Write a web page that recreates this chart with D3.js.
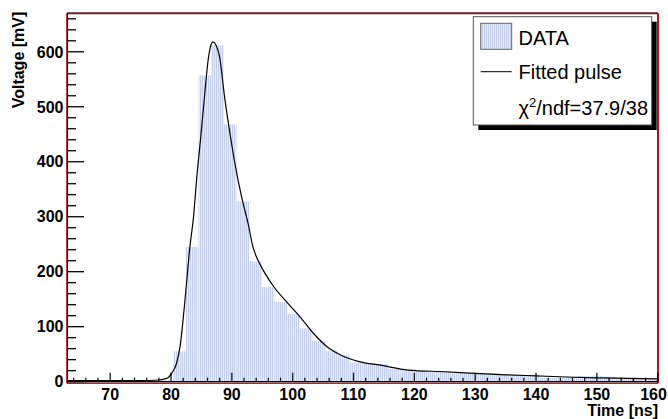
<!DOCTYPE html>
<html><head><meta charset="utf-8">
<script src="https://cdn.jsdelivr.net/npm/d3@7"></script>
<style>
html,body{margin:0;padding:0;background:#fff;}
svg{display:block;}
text{font-family:"Liberation Sans",Arial,Helvetica,sans-serif;}
</style></head>
<body>
<svg id="chart" width="668" height="419"></svg>
<script>
// ---- data ----
const binWidth = 2.075;
const binStarts = [61.70,63.78,65.85,67.93,70.00,72.08,74.15,76.23,78.30,
  80.38,82.45,84.53,86.60,88.68,90.75,92.83,94.90,96.98,99.05,101.13,103.20,105.28,107.35,
  109.43,111.50,113.58,115.65,117.73,119.80,121.88,123.95,126.03,128.10,130.18,132.25,
  134.33,136.40,138.48,140.55,142.63,144.70,146.78,148.85,150.93,153.00,155.08,157.15,159.23];
const binValues = [1,1,1,1,1,1,1,1,2,
  55,245,557,612,468,328,219,172,145,123,97,74,56,48,
  35,33,32,23,21,18,17,19,15,15,14,15,
  12,12,11,7,7,7,10,10,9,6,6,5,5];
const fitT = [62.9,70,75,78,79,79.5,80.1,80.9,81.5,82.3,83.1,83.7,84.2,85.0,85.6,86.1,86.5,86.9,87.4,88.0,88.8,89.6,90.5,91.6,92.7,93.4,94.0,94.6,95.5,96.8,99.0,101.2,103.4,105.6,107.8,111.1,114.4,119,125,130,135,140,145,150,155,160.05];
const fitV = [2,2,2,3,5,7,15,33,65,149,245,300,367,458,530,585,610,618,612,590,518,458,397,336,286,248,228,214,196,174,145,118,88,64,49,36,30,21,18,15,12.5,10.5,8.5,7,6,5];
const xTicks = [70,80,90,100,110,120,130,140,150,160];
const yTicks = [0,100,200,300,400,500,600];
const xTitle = "Time [ns]";
const yTitle = "Voltage [mV]";
const legendLabels = ["DATA","Fitted pulse"];
const chiText = ["χ","2","/ndf=37.9/38"];

// ---- layout ----
const W = 668;
const L = 67, R = 658, T = 13.3, B = 383.3;
const svg = d3.select("#chart");
const x = d3.scaleLinear().domain([62.9,160.05]).range([L,R]);
const y = d3.scaleLinear().domain([-3,670]).range([B,T]);

const defs = svg.append("defs");
const pat = defs.append("pattern").attr("id","stripes").attr("patternUnits","userSpaceOnUse")
  .attr("width",2).attr("height",4);
pat.append("rect").attr("width",2).attr("height",4).attr("fill","#e8edf8");
pat.append("rect").attr("width",1).attr("height",4).attr("fill","#c3cfea");
defs.append("clipPath").attr("id","clip").append("rect")
  .attr("x",L).attr("y",T).attr("width",R-L).attr("height",B-T);

// bars
const bins = binStarts.map((s,i)=>({s, v:binValues[i]}));
svg.append("g").attr("clip-path","url(#clip)").selectAll("rect").data(bins).join("rect")
  .attr("x",d=>x(d.s)).attr("width",d=>x(d.s+binWidth)-x(d.s))
  .attr("y",d=>y(d.v)).attr("height",d=>y(0)-y(d.v))
  .attr("fill","url(#stripes)");

// fit curve
const pts = fitT.map((t,i)=>[t,fitV[i]]);
svg.append("path").datum(pts).attr("clip-path","url(#clip)")
  .attr("d",d3.line().x(d=>x(d[0])).y(d=>y(d[1])).curve(d3.curveMonotoneX))
  .attr("fill","none").attr("stroke","#000").attr("stroke-width",1.2);

// frame
svg.append("line").attr("x1",L).attr("x2",R).attr("y1",T).attr("y2",T).attr("stroke","#6a2020").attr("stroke-width",2);
svg.append("line").attr("x1",R).attr("x2",R).attr("y1",T).attr("y2",B).attr("stroke","#b41414").attr("stroke-width",2);
svg.append("line").attr("x1",L).attr("x2",R).attr("y1",B).attr("y2",B).attr("stroke","#c81e1e").attr("stroke-width",1.6);
svg.append("line").attr("x1",L-0.3).attr("x2",L-0.3).attr("y1",T).attr("y2",B).attr("stroke","#c81e1e").attr("stroke-width",1.2);

// x axis (ticks inward)
const gx = svg.append("g").attr("transform",`translate(0,${y(0)})`);
gx.append("line").attr("x1",L).attr("x2",R).attr("stroke","#000").attr("stroke-width",1.2);
const xMinor = d3.range(64,160.5,2);
gx.selectAll("line.mn").data(xMinor).join("line").attr("class","mn")
  .attr("x1",d=>x(d)).attr("x2",d=>x(d)).attr("y1",0).attr("y2",d=>d%10===0?-9:-4)
  .attr("stroke","#000").attr("stroke-width",1.2);
gx.selectAll("text").data(xTicks).join("text")
  .attr("x",d=>x(d)).attr("y",18.5).attr("text-anchor","middle")
  .attr("font-size",16).attr("font-weight","bold").text(d=>d)
  .each(function(){
    const bb = this.getBBox();
    if (bb.x + bb.width > W - 1) d3.select(this).attr("x", +d3.select(this).attr("x") - (bb.x + bb.width - (W - 1)));
  });

// y axis
const gy = svg.append("g").attr("transform",`translate(${L+0.5},0)`);
gy.append("line").attr("y1",T).attr("y2",B).attr("stroke","#000").attr("stroke-width",1);
const yMinor = d3.range(0,670,20);
gy.selectAll("line.mn").data(yMinor).join("line").attr("class","mn")
  .attr("y1",d=>y(d)).attr("y2",d=>y(d)).attr("x1",0).attr("x2",d=>d%100===0?16.5:8.5)
  .attr("stroke","#000").attr("stroke-width",1.3);
gy.selectAll("text").data(yTicks).join("text")
  .attr("x",-4).attr("y",d=>y(d)).attr("dy","0.36em").attr("text-anchor","end")
  .attr("font-size",16).attr("font-weight","bold").text(d=>d);

// titles
svg.append("text").attr("x",R).attr("y",416).attr("text-anchor","end")
  .attr("font-size",16).attr("font-weight","bold").text(xTitle);
svg.append("text").attr("transform","translate(24,11.7) rotate(-90)").attr("text-anchor","end")
  .attr("font-size",16).attr("font-weight","bold").text(yTitle);

// legend
const lx = 473.3, ly = 16.7, lw = 178.4, lh = 108.3;
svg.append("rect").attr("x",lx+5).attr("y",ly+5).attr("width",lw).attr("height",lh).attr("fill","#000");
svg.append("rect").attr("x",lx).attr("y",ly).attr("width",lw).attr("height",lh).attr("fill","#fff")
  .attr("stroke","#555").attr("stroke-width",1);
svg.append("rect").attr("x",480.7).attr("y",23.3).attr("width",31).attr("height",26)
  .attr("fill","url(#stripes)").attr("stroke","#666").attr("stroke-width",1);
svg.append("line").attr("x1",480.7).attr("x2",511.7).attr("y1",71.7).attr("y2",71.7)
  .attr("stroke","#000").attr("stroke-width",1);
svg.append("text").attr("x",518.5).attr("y",45).attr("font-size",20).text(legendLabels[0]);
svg.append("text").attr("x",518.5).attr("y",79).attr("font-size",20).text(legendLabels[1]);
const chi = svg.append("text").attr("x",518.5).attr("y",114.5).attr("font-size",20);
chi.append("tspan").text(chiText[0]);
chi.append("tspan").attr("dy",-8).attr("font-size",13).text(chiText[1]);
chi.append("tspan").attr("dy",8).text(chiText[2]);
</script>
</body></html>
